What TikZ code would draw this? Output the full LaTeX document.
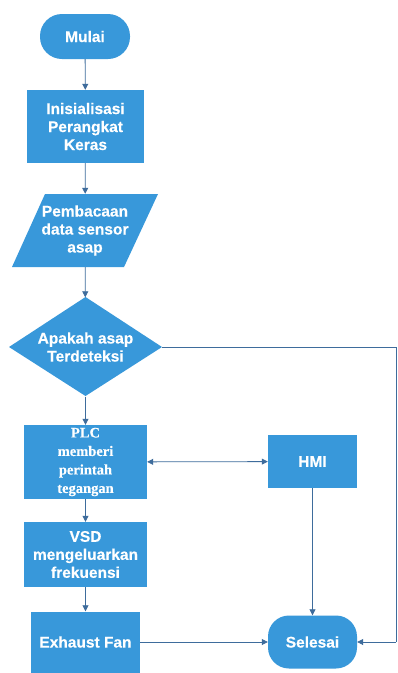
\documentclass[tikz,border=0pt]{standalone}
\usepackage{fontspec}
\setmainfont{Liberation Sans}[FakeBold=0.3]
\newfontfamily\plcfont{Liberation Serif}[UprightFont={* Bold},FakeBold=0.3]
\usetikzlibrary{arrows.meta,shapes.geometric}
\definecolor{boxblue}{RGB}{56,152,218}
\definecolor{linkblue}{RGB}{62,108,156}
\tikzset{
  boxstyle/.style={fill=boxblue,draw=none,inner sep=0pt,text=white,align=center,
    font=\fontsize{15.5}{18}\selectfont\bfseries},
  procbox/.style={boxstyle,minimum width=#1},
  termbox/.style={boxstyle,rounded corners=21pt},
  lbl/.style={text=white,align=center,font=\fontsize{15.5}{18}\selectfont\bfseries,inner sep=0pt},
  conn/.style={draw=linkblue,line width=0.8pt,-{Triangle[length=6pt,width=6pt]}},
  dconn/.style={draw=linkblue,line width=0.8pt,{Triangle[length=6pt,width=6pt]}-{Triangle[length=6pt,width=6pt]}},
  plain/.style={draw=linkblue,line width=0.8pt}
}
\begin{document}
\begin{tikzpicture}[x=1pt,y=-1pt]
\useasboundingbox[fill=white] (0,0) rectangle (397,673);
% terminals
\node[termbox,minimum width=90pt,minimum height=45pt,rounded corners=22pt] (start) at (85,36.5) {Mulai};
\node[procbox=117pt,minimum height=73pt] (init) at (85.5,126.5) {Inisialisasi\\Perangkat\\Keras};
% parallelogram
\fill[boxblue] (45,194) -- (158,194) -- (124,267) -- (12,267) -- cycle;
\node[lbl,minimum width=113pt,minimum height=73pt] (read) at (85,230.5) {Pembacaan\\data sensor\\asap};
% decision
\fill[boxblue] (85.5,297) -- (162,347) -- (85.5,396) -- (9,347) -- cycle;
\node[lbl,minimum width=153pt,minimum height=99pt] (dec) at (85.5,347) {Apakah asap\\Terdeteksi};
% process boxes
\node[boxstyle,minimum width=123pt,minimum height=74pt,font=\plcfont\fontsize{14.5}{18.5}\selectfont] (plc) at (85.5,462) {PLC\\memberi\\perintah\\tegangan};
\node[procbox=89pt,minimum height=53pt] (hmi) at (312.5,461.5) {HMI};
\node[procbox=123pt,minimum height=65pt] (vsd) at (85.5,554.5) {VSD\\mengeluarkan\\frekuensi};
\node[procbox=109pt,minimum height=61pt] (fan) at (85.5,642) {Exhaust Fan};
\node[termbox,minimum width=89pt,minimum height=53pt] (end) at (312.5,642) {Selesai};
\coordinate (rtop) at (396,347);
\coordinate (rbot) at (396,642);
% connectors
\draw[conn] (start) -- (init);
\draw[conn] (init) -- (read);
\draw[conn] (read) -- (dec);
\draw[conn] (dec) -- (plc);
\draw[conn] (plc) -- (vsd);
\draw[conn] (vsd) -- (fan);
\draw[dconn] (plc) -- (hmi);
\draw[conn] (hmi) -- (end);
\draw[conn] (fan.east) -- (end.west);
\draw[plain] (dec.east) -- (rtop) -- (rbot);
\draw[conn] (rbot) -- (end.east);
\end{tikzpicture}
\end{document}
